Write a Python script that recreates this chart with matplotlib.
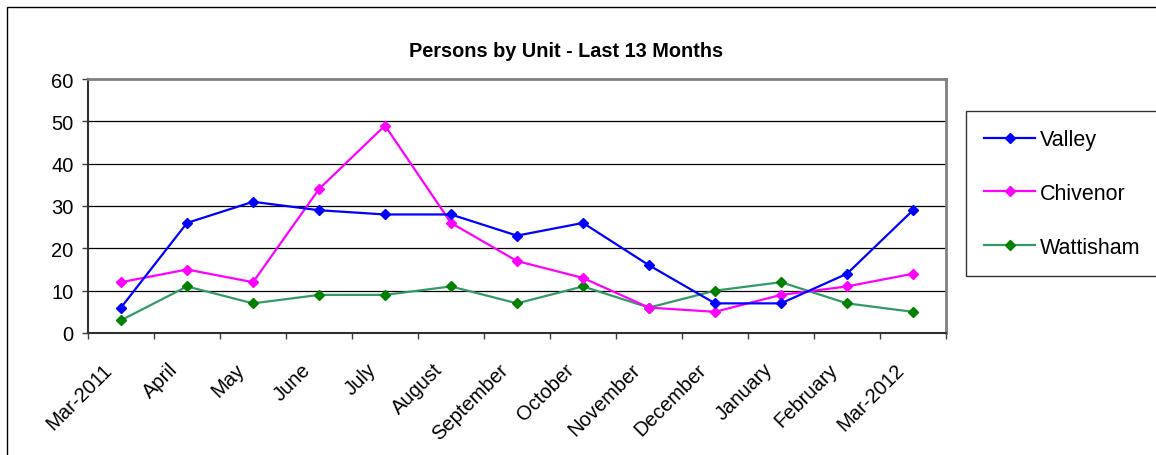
import matplotlib
matplotlib.use("Agg")
import matplotlib.pyplot as plt
from matplotlib.patches import Rectangle
from matplotlib.lines import Line2D

plt.rcParams['font.family'] = ['Liberation Sans', 'DejaVu Sans']

months = ["Mar-2011", "April", "May", "June", "July", "August", "September",
          "October", "November", "December", "January", "February", "Mar-2012"]
valley = [6, 26, 31, 29, 28, 28, 23, 26, 16, 7, 7, 14, 29]
chivenor = [12, 15, 12, 34, 49, 26, 17, 13, 6, 5, 9, 11, 14]
wattisham = [3, 11, 7, 9, 9, 11, 7, 11, 6, 10, 12, 7, 5]
yticks = [0, 10, 20, 30, 40, 50, 60]

W, H = 1156, 456
fig = plt.figure(figsize=(W / 100, H / 100), dpi=100)
fig.patch.set_facecolor("white")

# outer chart frame
fig.patches.append(Rectangle((7 / W, -0.1), 1.2, (456 - 8) / H + 0.1,
                             transform=fig.transFigure, fill=False,
                             edgecolor="black", linewidth=1.0))

ax = fig.add_axes([88 / W, (456 - 334) / H, (946 - 88) / W, (334 - 80) / H])
x = [i + 0.5 for i in range(len(months))]

ms = 5.2
ax.plot(x, valley, color="#0000FF", lw=1.6, marker="D", ms=ms,
        mfc="#0000FF", mec="#0000FF", label="Valley", zorder=5)
ax.plot(x, chivenor, color="#FF00FF", lw=1.6, marker="D", ms=ms,
        mfc="#FF00FF", mec="#FF00FF", label="Chivenor", zorder=4)
ax.plot(x, wattisham, color="#339966", lw=1.6, marker="D", ms=ms,
        mfc="#008000", mec="#008000", label="Wattisham", zorder=3)

ax.set_xlim(0, len(months))
ax.set_ylim(0, 60)
ax.set_yticks(yticks)
ax.set_yticklabels([str(v) for v in yticks], fontsize=14.5)
for v in yticks[1:-1]:
    ax.axhline(v, color="black", lw=0.9, zorder=1)

ax.set_xticks(range(len(months) + 1))
ax.set_xticklabels([])
for xi, lab in zip(x, months):
    ax.text(xi - 0.28, -6.2, lab, rotation=45, ha="right", va="top",
            rotation_mode="anchor", fontsize=14.5, transform=ax.transData)

ax.tick_params(axis="x", direction="out", length=4.3, width=1, color="#404040")
ax.tick_params(axis="y", direction="out", length=4.3, width=1, color="#404040", pad=6)
for s in ["top", "right"]:
    ax.spines[s].set_color("#808080")
    ax.spines[s].set_linewidth(2)
for s in ["left", "bottom"]:
    ax.spines[s].set_color("#303030")
    ax.spines[s].set_linewidth(1.5)

fig.text(566 / W, 1 - 57 / H, "Persons by Unit - Last 13 Months",
         ha="center", va="baseline", fontsize=14.3, fontweight="bold")

handles = [Line2D([], [], color="#0000FF", lw=1.6, marker="D", ms=ms, mfc="#0000FF", mec="#0000FF"),
           Line2D([], [], color="#FF00FF", lw=1.6, marker="D", ms=ms, mfc="#FF00FF", mec="#FF00FF"),
           Line2D([], [], color="#339966", lw=1.6, marker="D", ms=ms, mfc="#008000", mec="#008000")]
leg = fig.legend(handles, ["Valley", "Chivenor", "Wattisham"],
                 loc="upper left", bbox_to_anchor=(966 / W, 1 - 112 / H),
                 fontsize=15.5, frameon=True, fancybox=False, edgecolor="black",
                 labelspacing=1.52, handlelength=2.35, handletextpad=0.25,
                 borderpad=0.85, borderaxespad=0)
leg.get_frame().set_linewidth(1.0)

fig.savefig("out.png", dpi=100)
